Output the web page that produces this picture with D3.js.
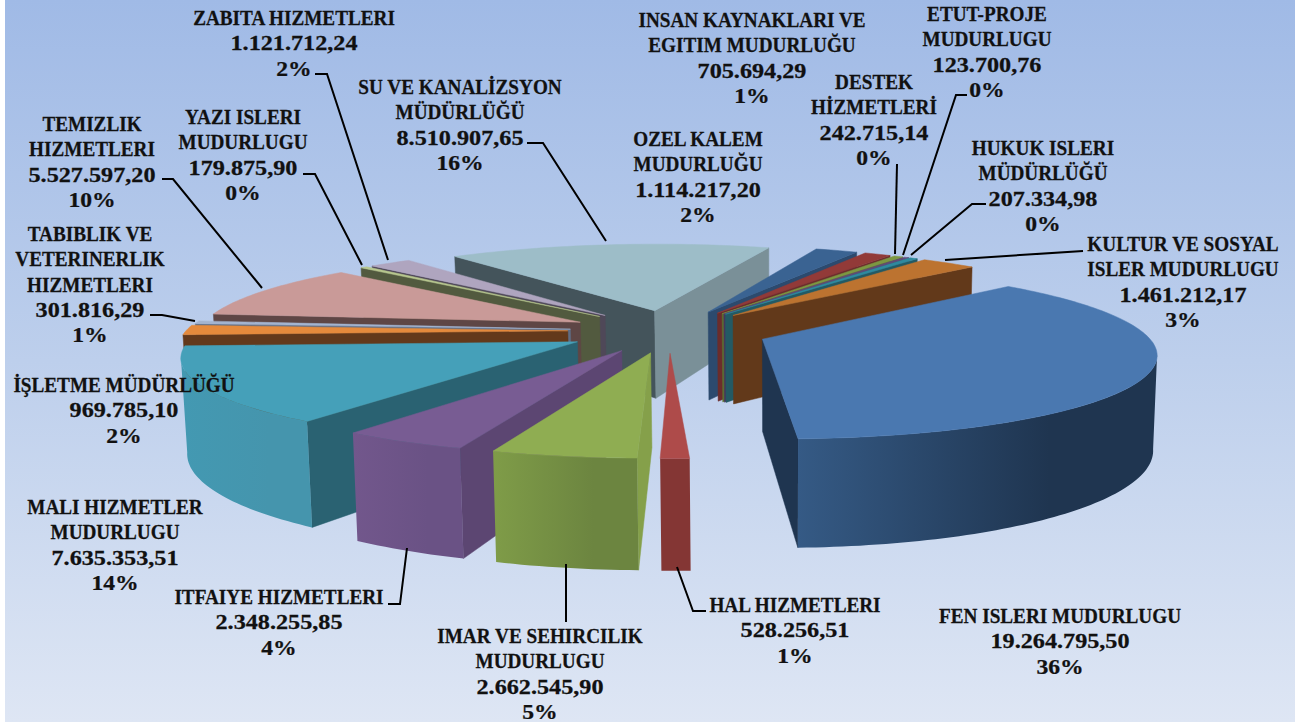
<!DOCTYPE html>
<html>
<head>
<meta charset="utf-8">
<script src="https://cdn.jsdelivr.net/npm/d3@7"></script>
<style>
html, body { margin: 0; padding: 0; background: #fff; overflow: hidden; }
text { font-family: "Liberation Serif", serif; font-weight: bold; font-size: 20px; fill: #111; stroke: #111; stroke-width: 0.25; }
</style>
</head>
<body>
<div id="canvas"></div>
<script>
var _width = 1295, _height = 722;

// data, clockwise from the back of the pie
var names = [
    ["SU VE KANALİZSYON", "MÜDÜRLÜĞÜ"],
    ["OZEL KALEM", "MUDURLUĞU"],
    ["INSAN KAYNAKLARI VE", "EGITIM MUDURLUĞU"],
    ["DESTEK", "HİZMETLERİ"],
    ["ETUT-PROJE", "MUDURLUGU"],
    ["HUKUK ISLERI", "MÜDÜRLÜĞÜ"],
    ["KULTUR VE SOSYAL", "ISLER MUDURLUGU"],
    ["FEN ISLERI MUDURLUGU"],
    ["HAL HIZMETLERI"],
    ["IMAR VE SEHIRCILIK", "MUDURLUGU"],
    ["ITFAIYE HIZMETLERI"],
    ["MALI HIZMETLER", "MUDURLUGU"],
    ["İŞLETME MÜDÜRLÜĞÜ"],
    ["TABIBLIK VE", "VETERINERLIK", "HIZMETLERI"],
    ["TEMIZLIK", "HIZMETLERI"],
    ["YAZI ISLERI", "MUDURLUGU"],
    ["ZABITA HIZMETLERI"]
];
var values = [8510907.65, 1114217.20, 705694.29, 242715.14, 123700.76, 207334.98, 1461212.17,
    19264795.50, 528256.51, 2662545.90, 2348255.85, 7635353.51, 969785.10, 301816.29,
    5527597.20, 179875.90, 1121712.24];

// colours per slice
var topColors = ["#9dbdc8", "#3a6392", "#923a38", "#7c9742", "#604a7b", "#2f8a9e", "#bc7330", "#4a78b0",
    "#ae4b4a", "#8fad52", "#785c93", "#45a0b9", "#e58a3c", "#a3b4d0", "#c99a98", "#b7c78e", "#afa5bf"];
var startWall = ["#44545b", "#2c4a6e", "#6b2c2b", "#5c7030", "#46365c", "#235a64", "#62391a", "#1f3550",
    "#843634", "#85a04a", "#5c4672", "#2a6272", "#63391b", "#5f6d85", "#5e4645", "#525a3f", "#4f4858"];
var endWall = ["#7a9098", "#2c4a6e", "#6b2c2b", "#5c7030", "#46365c", "#235a64", "#62391a", "#1f3550",
    "#843634", "#85a04a", "#5c4672", "#2a6272", "#63391b", "#5f6d85", "#5e4645", "#525a3f", "#4f4858"];
var rimLeft = ["#7a9098", "#2c4a6e", "#6b2c2b", "#5c7030", "#46365c", "#235a64", "#62391a", "#355a85",
    "#843634", "#7f9c48", "#72578c", "#4399b2", "#63391b", "#5f6d85", "#5e4645", "#525a3f", "#4f4858"];
var rimRight = ["#7a9098", "#2c4a6e", "#6b2c2b", "#5c7030", "#46365c", "#235a64", "#62391a", "#1f3550",
    "#843634", "#6c8540", "#6a5285", "#4595ad", "#63391b", "#5f6d85", "#5e4645", "#525a3f", "#4f4858"];

// label layout: centre x, first baseline
var labelX = [460, 698, 752, 874, 987, 1043, 1183, 1060, 795, 540, 279, 115, 124, 90, 92, 243, 294];
var labelY = [94, 146, 27, 89, 21, 155, 251, 623, 612, 643, 604, 514, 392, 241, 131, 124, 25];
var _lineH = 25.3;
// the original face is wider in the digits than Liberation Serif
var _nameStretch = 0.96, _valueStretch = 1.21, _pctStretch = 1.18;

// leader lines, in label order (empty where there is none)
var leaders = [
    [[527, 143], [543, 143], [606, 241]],
    [],
    [],
    [[897, 164], [895, 254]],
    [[967, 95], [956, 95], [903, 255]],
    [[986, 204], [972, 204], [911, 255]],
    [[1083, 251], [945, 260]],
    [],
    [[706, 611], [693, 611], [677, 567]],
    [[566, 622], [566, 564]],
    [[388, 604], [400, 604], [407, 548]],
    [],
    [],
    [[150, 315], [162, 315], [195, 321]],
    [[162, 179], [173, 179], [262, 288]],
    [[303, 174], [315, 174], [362, 265]],
    [[315, 74], [327, 74], [388, 260]]
];

// how far each slice is pulled out of the pie
var explode = [0.26, 0.26, 0.26, 0.26, 0.26, 0.26, 0.26, 0.26, 0.26, 0.26, 0.26, 0.268, 0.265, 0.26, 0.26, 0.26, 0.26];

// view of the pie; vertical edges converge on _vx
var _cx = 669, _cy = 331, _R = 382, _k = 0.215, _c = 0.15, _h = 91, _lean = 0.0106, _vx = 780;
var _rot = -37.6 * Math.PI / 180;

function project(px, py, z) {
    var s = 1 / (1 - _c * py);
    var x = _cx + _R * px * s;
    var y = _R * _k * py * s;
    return [x - (x - _vx) * _lean * z, _cy + y + _h * s * z];
}

// point on a slice: r is 0 at the apex and 1 on the rim
function slicePoint(d, a, r, z) {
    var mid = (d.startAngle + d.endAngle) / 2;
    var e = explode[d.i];
    var px = e * Math.sin(mid) + r * Math.sin(a);
    var py = -e * Math.cos(mid) - r * Math.cos(a);
    return project(px, py, z);
}

function arcPoints(d, a0, a1, z) {
    var pts = [], n = Math.max(2, Math.ceil((a1 - a0) / 0.02));
    for (var i = 0; i <= n; i++) {
        pts.push(slicePoint(d, a0 + (a1 - a0) * i / n, 1, z));
    }
    return pts;
}

var svg = d3.select('#canvas').append('svg')
    .attr('width', _width)
    .attr('height', _height)
    .style('display', 'block');

var defs = svg.append('defs');
var bg = defs.append('linearGradient').attr('id', 'bg')
    .attr('x1', 0).attr('y1', 0).attr('x2', 0).attr('y2', 1);
bg.append('stop').attr('offset', '0%').attr('stop-color', '#a0bae6');
bg.append('stop').attr('offset', '50%').attr('stop-color', '#bdcfec');
bg.append('stop').attr('offset', '100%').attr('stop-color', '#dee6f4');

svg.append('rect')
    .attr('x', 5).attr('y', 0)
    .attr('width', _width - 5).attr('height', _height)
    .attr('fill', 'url(#bg)');

var pie = d3.pie().sort(null)
    .startAngle(_rot)
    .endAngle(_rot + 2 * Math.PI);
var arcs = pie(values);
arcs.forEach(function (d, i) { d.i = i; });

var line = d3.line();
var _g = svg.append('g');

// back slices first
var order = arcs.slice().sort(function (a, b) {
    return -Math.cos((a.startAngle + a.endAngle) / 2) + Math.cos((b.startAngle + b.endAngle) / 2);
});

order.forEach(function (d) {
    var g = _g.append('g').attr('class', 'slice');
    var i = d.i;
    var apexT = slicePoint(d, d.startAngle, 0, 0), apexB = slicePoint(d, d.startAngle, 0, 1);

    // radial walls, only when they face the viewer
    var st = slicePoint(d, d.startAngle, 1, 0), sb = slicePoint(d, d.startAngle, 1, 1);
    if (st[0] < apexT[0]) {
        g.append('path').attr('d', line([apexT, st, sb, apexB]) + 'Z')
            .attr('fill', startWall[i]).attr('stroke', startWall[i]).attr('stroke-width', 0.5);
    }
    var et = slicePoint(d, d.endAngle, 1, 0), eb = slicePoint(d, d.endAngle, 1, 1);
    if (et[0] > apexT[0]) {
        g.append('path').attr('d', line([apexT, et, eb, apexB]) + 'Z')
            .attr('fill', endWall[i]).attr('stroke', endWall[i]).attr('stroke-width', 0.5);
    }

    // outer wall between the two silhouette points (perspective moves them forward of 90/270 deg)
    var a0 = d.startAngle, a1 = d.endAngle;
    var f0 = 100 * Math.PI / 180, f1 = 260 * Math.PI / 180;
    var r0 = Math.max(a0, f0), r1 = Math.min(a1, f1);
    if (r1 > r0) {
        var top = arcPoints(d, r0, r1, 0), bottom = arcPoints(d, r0, r1, 1).reverse();
        var xs = top.map(function (p) { return p[0]; });
        var grad = defs.append('linearGradient').attr('id', 'rim' + i)
            .attr('gradientUnits', 'userSpaceOnUse')
            .attr('x1', d3.min(xs)).attr('y1', 0)
            .attr('x2', d3.max(xs)).attr('y2', 0);
        grad.append('stop').attr('offset', '0%').attr('stop-color', rimLeft[i]);
        grad.append('stop').attr('offset', '70%').attr('stop-color', rimRight[i]);
        g.append('path').attr('d', line(top.concat(bottom)) + 'Z')
            .attr('fill', 'url(#rim' + i + ')');
    }

    // top face
    g.append('path').attr('d', line([apexT].concat(arcPoints(d, a0, a1, 0))) + 'Z')
        .attr('fill', topColors[i]).attr('stroke', topColors[i]).attr('stroke-width', 0.5);
});

// leader lines
svg.append('g').selectAll('path').data(leaders.filter(function (l) { return l.length; })).enter().append('path')
    .attr('d', function (d) { return line(d); })
    .attr('fill', 'none')
    .attr('stroke', '#000')
    .attr('stroke-width', 2);

// labels
var money = d3.formatLocale({ decimal: ",", thousands: ".", grouping: [3], currency: ["", ""] }).format(",.2f");
var pct = d3.format(".0%");
var total = d3.sum(values);

var labelRows = [];
arcs.forEach(function (d, i) {
    var n = names[i].length;
    names[i].forEach(function (t, j) { labelRows.push({ text: t, x: labelX[i], y: labelY[i] + j * _lineH, sx: _nameStretch }); });
    labelRows.push({ text: money(d.value), x: labelX[i], y: labelY[i] + n * _lineH, sx: _valueStretch });
    labelRows.push({ text: pct(d.value / total), x: labelX[i], y: labelY[i] + (n + 1) * _lineH, sx: _pctStretch });
});

svg.append('g').selectAll('text').data(labelRows).enter().append('text')
    .attr('text-anchor', 'middle')
    .attr('transform', function (d) { return 'translate(' + d.x + ',' + d.y + ') scale(' + d.sx + ',1)'; })
    .text(function (d) { return d.text; });
</script>
</body>
</html>
